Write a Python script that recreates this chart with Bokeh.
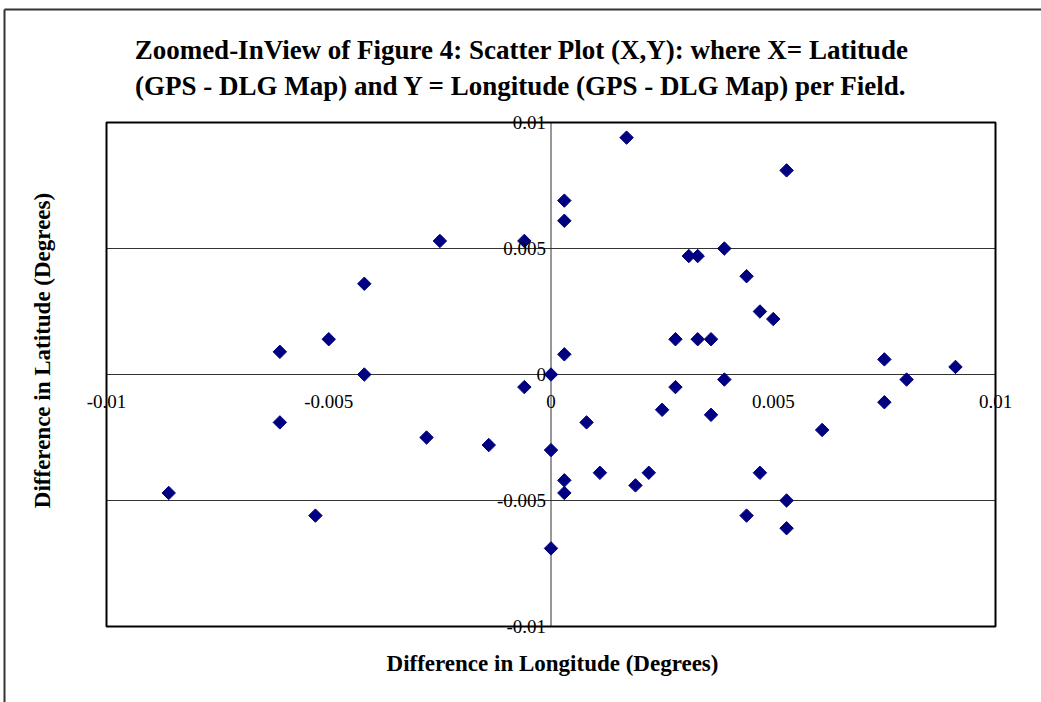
import numpy as np
from bokeh.plotting import figure
from bokeh.models import Label, Range1d
from bokeh.embed import file_html
from bokeh.resources import INLINE

# Differences in longitude (x) and latitude (y), degrees
dx = [-0.0086, -0.0061, -0.0061, -0.0053, -0.0050, -0.0042, -0.0042, -0.0028,
      -0.0025, -0.0014, -0.0006, -0.0006, 0.0000, 0.0000, 0.0000, 0.0003,
      0.0003, 0.0003, 0.0003, 0.0003, 0.0008, 0.0011, 0.0017, 0.0019,
      0.0022, 0.0025, 0.0028, 0.0028, 0.0031, 0.0033, 0.0033, 0.0036,
      0.0036, 0.0039, 0.0039, 0.0044, 0.0044, 0.0047, 0.0047, 0.0050,
      0.0053, 0.0053, 0.0053, 0.0061, 0.0075, 0.0075, 0.0080, 0.0091]
dy = [-0.0047, 0.0009, -0.0019, -0.0056, 0.0014, 0.0036, 0.0000, -0.0025,
      0.0053, -0.0028, 0.0053, -0.0005, 0.0000, -0.0030, -0.0069, 0.0069,
      0.0061, 0.0008, -0.0042, -0.0047, -0.0019, -0.0039, 0.0094, -0.0044,
      -0.0039, -0.0014, 0.0014, -0.0005, 0.0047, 0.0047, 0.0014, 0.0014,
      -0.0016, 0.0050, -0.0002, 0.0039, -0.0056, 0.0025, -0.0039, 0.0022,
      0.0081, -0.0050, -0.0061, -0.0022, 0.0006, -0.0011, -0.0002, 0.0003]

x_ticks = [-0.01, -0.005, 0, 0.005, 0.01]
x_tick_labels = ["-0.01", "-0.005", "0", "0.005", "0.01"]
y_ticks = [0.01, 0.005, 0, -0.005, -0.01]
y_tick_labels = ["0.01", "0.005", "0", "-0.005", "-0.01"]
gridlines = [0.005, -0.005]

title_lines = ["Zoomed-InView of Figure 4: Scatter Plot (X,Y): where X= Latitude",
               "(GPS - DLG Map) and Y = Longitude (GPS - DLG Map) per Field."]
x_title = "Difference in Longitude (Degrees)"
y_title = "Difference in Latitude (Degrees)"

FONT = "Liberation Serif"
W, H = 1041, 702
# plot-area placement inside the canvas (pixels)
PL, PR, PT, PB = 106, 46, 122, 76
xmin, xmax = min(x_ticks), max(x_ticks)
ymin, ymax = min(y_ticks), max(y_ticks)
xs = (xmax - xmin) / (W - PL - PR)
ys = (ymax - ymin) / (H - PT - PB)
x_range = Range1d(xmin - PL * xs, xmax + PR * xs)
y_range = Range1d(ymin - PB * ys, ymax + PT * ys)

p = figure(width=W, height=H, x_range=x_range, y_range=y_range,
           output_backend="svg", toolbar_location=None, min_border=0)
p.xaxis.visible = False
p.yaxis.visible = False
p.xgrid.visible = False
p.ygrid.visible = False
p.outline_line_color = None
p.background_fill_color = "white"
p.border_fill_color = "white"

# outer chart border (top and left edges)
bx, by = x_range.start + 4 * xs, y_range.end - 9 * ys
p.segment(x0=[bx, bx], y0=[by, by],
          x1=[x_range.end + 10 * xs, bx], y1=[by, y_range.start - 10 * ys],
          line_color="#333", line_width=2)

# gridlines and zero axes
p.segment(x0=[xmin] * len(gridlines), x1=[xmax] * len(gridlines), y0=gridlines, y1=gridlines,
          line_color="#333", line_width=1)
p.segment(x0=[xmin, 0], x1=[xmax, 0], y0=[0, ymin], y1=[0, ymax],
          line_color="#333", line_width=1)

# plot-area border
p.quad(left=[xmin], right=[xmax], bottom=[ymin], top=[ymax],
       fill_alpha=0, line_color="black", line_width=2)

p.scatter(dx, dy, marker="square", angle=np.pi / 4, size=9.5,
          fill_color="#000080", line_color="#000080")

for v, t in zip(x_ticks, x_tick_labels):
    p.add_layout(Label(x=v, y=0, text=t, text_align="center", text_baseline="middle",
                       y_offset=-27, text_font=FONT, text_font_size="19px", text_color="black"))
for v, t in zip(y_ticks, y_tick_labels):
    p.add_layout(Label(x=0, y=v, text=t, text_align="right", text_baseline="middle",
                       x_offset=-5, text_font=FONT, text_font_size="19px", text_color="black"))

for i, t in enumerate(title_lines):
    p.add_layout(Label(x=521, y=653 - 36 * i, x_units="screen", y_units="screen", text=t,
                       text_align="center", text_baseline="middle", text_font=FONT,
                       text_font_style="bold", text_font_size="27px", text_color="black"))

p.add_layout(Label(x=552, y=39, x_units="screen", y_units="screen", text=x_title,
                   text_align="center", text_baseline="middle", text_font=FONT,
                   text_font_style="bold", text_font_size="23px", text_color="black"))
p.add_layout(Label(x=42, y=352, x_units="screen", y_units="screen", text=y_title,
                   angle=np.pi / 2, text_align="center", text_baseline="middle", text_font=FONT,
                   text_font_style="bold", text_font_size="23px", text_color="black"))

open("out.html", "w").write(file_html(p, INLINE))
